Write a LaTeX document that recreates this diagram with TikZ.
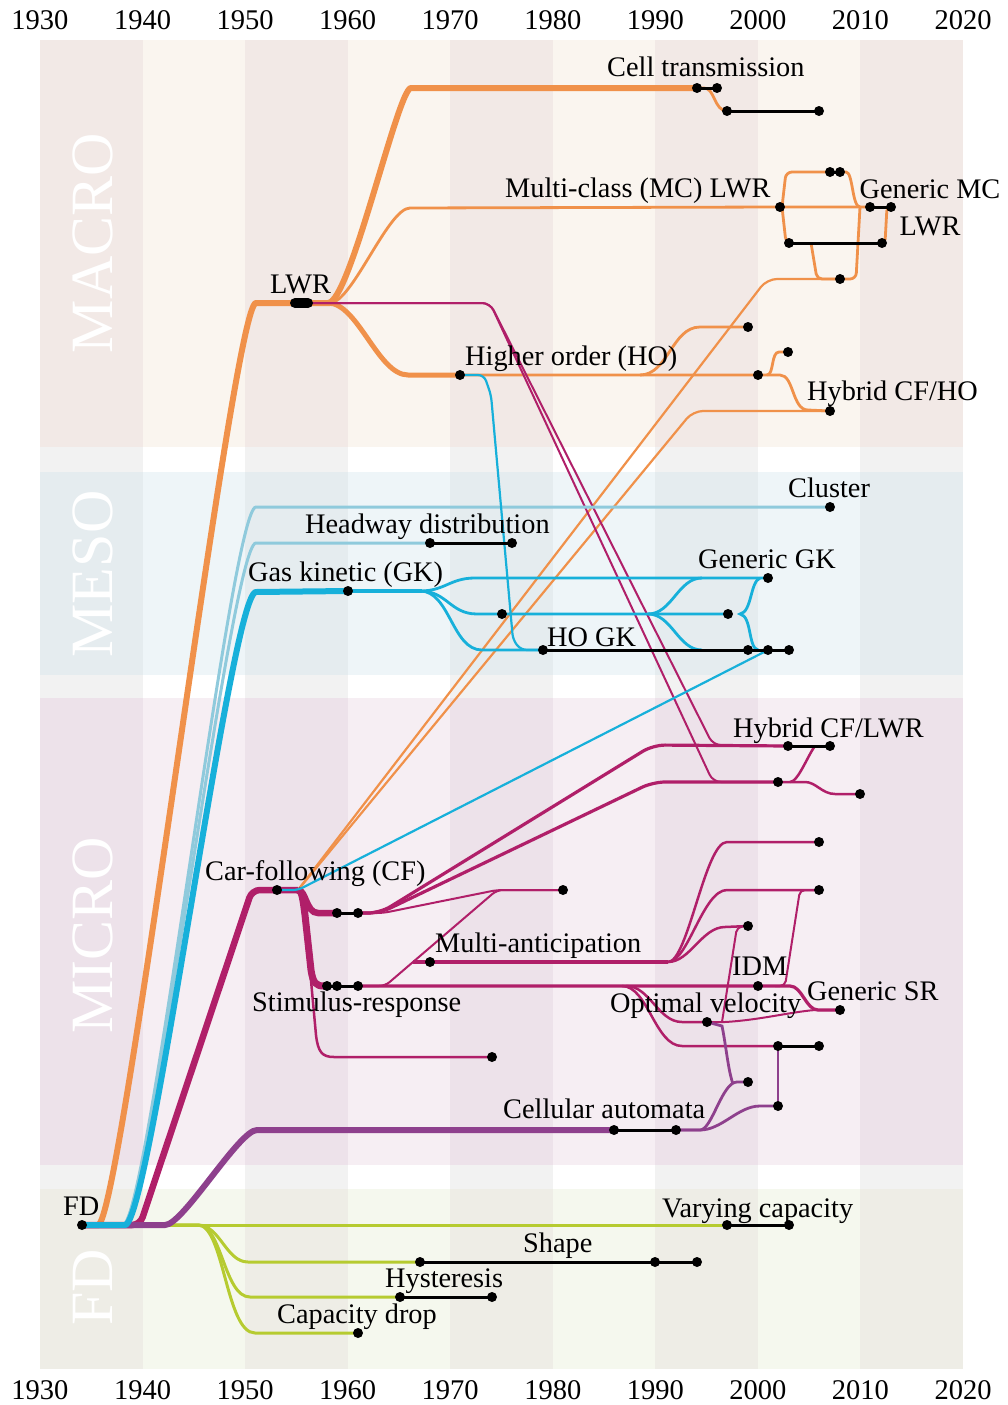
\documentclass[tikz,border=0pt]{standalone}
\usepackage{tikz}
\usepackage{fontspec}
\setmainfont{Liberation Serif}
\definecolor{cOr}{HTML}{F0914A}
\definecolor{cCy}{HTML}{17B0DA}
\definecolor{cLb}{HTML}{8FCADC}
\definecolor{cMg}{HTML}{B01F69}
\definecolor{cPu}{HTML}{8E408D}
\definecolor{cGr}{HTML}{B6CB30}
\definecolor{macD}{HTML}{F2E9E6}
\definecolor{macL}{HTML}{FAF5EF}
\definecolor{mesD}{HTML}{E5ECEF}
\definecolor{mesL}{HTML}{EEF5F8}
\definecolor{micD}{HTML}{EDE2EA}
\definecolor{micL}{HTML}{F6EEF3}
\definecolor{fdD}{HTML}{EEEDE6}
\definecolor{fdL}{HTML}{F5F8EE}
\definecolor{gapD}{HTML}{F2F2F2}
\pgfdeclarelayer{bg}
\pgfdeclarelayer{lines}
\pgfsetlayers{bg,lines,main}
\begin{document}
\begin{tikzpicture}[x=1pt,y=-1pt,line cap=round,line join=round,
  dot/.style={circle,fill=black,inner sep=0pt,minimum size=10pt},
  lbl/.style={anchor=base west,inner sep=0pt,font=\fontsize{28.3}{37}\selectfont},
  yrlbl/.style={anchor=center,inner sep=0pt,font=\fontsize{28.5}{32}\selectfont},
  biglbl/.style={rotate=90,anchor=center,inner sep=0pt,text=white,font=\fontsize{60}{60}\selectfont},
  blk/.style={draw=black,line width=3pt},
  lnOrT/.style={draw=cOr,line width=6pt},
  lnOrM/.style={draw=cOr,line width=5pt},
  lnOr/.style={draw=cOr,line width=2.8pt},
  lnOrS/.style={draw=cOr,line width=2.2pt},
  lnCyT/.style={draw=cCy,line width=6pt},
  lnCyM/.style={draw=cCy,line width=4pt},
  lnCy/.style={draw=cCy,line width=2.8pt},
  lnCyS/.style={draw=cCy,line width=2.2pt},
  lnLb/.style={draw=cLb,line width=3pt},
  lnMgT/.style={draw=cMg,line width=6.5pt},
  lnMgM/.style={draw=cMg,line width=3.2pt},
  lnMg/.style={draw=cMg,line width=2.5pt},
  lnMgS/.style={draw=cMg,line width=2pt},
  lnPuT/.style={draw=cPu,line width=6pt},
  lnPu/.style={draw=cPu,line width=2.8pt},
  lnGr/.style={draw=cGr,line width=3pt}]
\useasboundingbox (0,0) rectangle (1007,1405);

% ---------- background ----------
\begin{pgfonlayer}{bg}
\fill[white] (0,0) rectangle (1007,1405);
\fill[macL] (40,40) rectangle (963,447);
\fill[mesL] (40,472) rectangle (963,675);
\fill[micL] (40,698) rectangle (963,1165);
\fill[fdL] (40,1189) rectangle (963,1369);
\foreach \xa in {40,245.11,450.22,655.33,860.44}{
  \fill[macD] (\xa,40) rectangle ++(102.56,407);
  \fill[gapD] (\xa,447) rectangle ++(102.56,25);
  \fill[mesD] (\xa,472) rectangle ++(102.56,203);
  \fill[gapD] (\xa,675) rectangle ++(102.56,23);
  \fill[micD] (\xa,698) rectangle ++(102.56,467);
  \fill[gapD] (\xa,1165) rectangle ++(102.56,24);
  \fill[fdD] (\xa,1189) rectangle ++(102.56,180);
}
\node[biglbl] (bMACRO) at (92.5,243) {MACRO};
\node[biglbl] (bMESO) at (92.5,574) {MESO};
\node[biglbl] (bMICRO) at (92.5,935) {MICRO};
\node[biglbl] (bFD) at (92.5,1287) {FD};
\end{pgfonlayer}

% ---------- year axis ----------
\foreach \i in {0,...,9}{
  \pgfmathtruncatemacro\yr{1930+10*\i}
  \node[yrlbl] (top\i) at ({40+102.556*\i},20) {\yr};
  \node[yrlbl] (bot\i) at ({40+102.556*\i},1390) {\yr};
}

% ---------- dots ----------
\node[dot] (fd) at (82,1225) {};
\node[dot] (lwrA) at (295,303) {};
\node[dot] (lwrB) at (308,303) {};
\node[dot] (ct1) at (697,88) {};
\node[dot] (ct2) at (717,88) {};
\node[dot] (ct3) at (727,111) {};
\node[dot] (ct4) at (819,111) {};
\node[dot] (mc1) at (780,207) {};
\node[dot] (mcA) at (830,172) {};
\node[dot] (mcB) at (840,172) {};
\node[dot] (gmc1) at (870,207) {};
\node[dot] (gmc2) at (891,207) {};
\node[dot] (mcl1) at (789,243) {};
\node[dot] (mcl2) at (882,243) {};
\node[dot] (mcd) at (840,279) {};
\node[dot] (ho1) at (460,375) {};
\node[dot] (ho2) at (748,327) {};
\node[dot] (ho3) at (758,375) {};
\node[dot] (ho4) at (788,352) {};
\node[dot] (hcfho) at (830,411) {};
\node[dot] (cl) at (830,507) {};
\node[dot] (hw1) at (430,543) {};
\node[dot] (hw2) at (512,543) {};
\node[dot] (gk1) at (348,591) {};
\node[dot] (gkm1) at (502,614) {};
\node[dot] (gkm2) at (728,614) {};
\node[dot] (ggk) at (768,578) {};
\node[dot] (hogk1) at (543,650) {};
\node[dot] (hogk2) at (748,650) {};
\node[dot] (hogk3) at (768,650) {};
\node[dot] (hogk4) at (789,650) {};
\node[dot] (cf) at (277,890) {};
\node[dot] (cfa) at (337,913) {};
\node[dot] (cfb) at (358,913) {};
\node[dot] (cfc) at (563,890) {};
\node[dot] (sr1) at (327,986) {};
\node[dot] (sr2) at (337,986) {};
\node[dot] (sr3) at (358,986) {};
\node[dot] (cfd) at (492,1057) {};
\node[dot] (ma) at (430,962) {};
\node[dot] (hl1) at (788,746) {};
\node[dot] (hl2) at (830,746) {};
\node[dot] (hl3) at (778,782) {};
\node[dot] (hl4) at (860,794) {};
\node[dot] (m1) at (819,842) {};
\node[dot] (m2) at (819,890) {};
\node[dot] (m3) at (748,926) {};
\node[dot] (idm) at (758,986) {};
\node[dot] (gsr) at (840,1010) {};
\node[dot] (ov) at (707,1022) {};
\node[dot] (m4) at (778,1046) {};
\node[dot] (m5) at (819,1046) {};
\node[dot] (ca1) at (614,1130) {};
\node[dot] (ca2) at (676,1130) {};
\node[dot] (ca3) at (748,1082) {};
\node[dot] (ca4) at (778,1106) {};
\node[dot] (vc1) at (727,1225) {};
\node[dot] (vc2) at (789,1225) {};
\node[dot] (sh1) at (420,1262) {};
\node[dot] (sh2) at (655,1262) {};
\node[dot] (sh3) at (697,1262) {};
\node[dot] (hy1) at (400,1297) {};
\node[dot] (hy2) at (492,1297) {};
\node[dot] (cd) at (358,1333) {};
\coordinate (cfj) at (298,890);

% ---------- connectors ----------
\begin{pgfonlayer}{lines}
% FD (green)
\draw[lnGr] (fd.center) -- (vc1.center);
\draw[lnGr] (fd.center) -- (198,1225) .. controls (220,1225) and (226,1262) .. (248,1262) -- (sh1.center);
\draw[lnGr] (fd.center) -- (198,1225) .. controls (222,1225) and (224,1297) .. (250,1297) -- (hy1.center);
\draw[lnGr] (fd.center) -- (198,1225) .. controls (224,1225) and (226,1333) .. (255,1333) -- (cd.center);
% MACRO (orange)
\draw[lnOrT] (fd.center) -- (98,1225) .. controls (121,1225) and (233,303) .. (256,303) -- (lwrB.center) -- (330,303);
\draw[lnOrT] (328,303) .. controls (350,303) and (398,88) .. (411,88) -- (ct1.center);
\draw[lnOr] (ct1.center) -- (704,88) .. controls (715,88) and (714,111) .. (ct3.center);
\draw[lnOr] (lwrB.center) -- (330,303) .. controls (352,303) and (388,208) .. (410,208) -- (mc1.center) -- (gmc1.center);
\draw[lnOrM] (lwrB.center) -- (328,303) .. controls (358,303) and (378,375) .. (408,375) -- (ho1.center);
\draw[lnOr] (ho1.center) -- (ho3.center) -- (780,375) .. controls (794,375) and (792,410) .. (808,410) -- (hcfho.center);
\draw[lnOr] (640,375) .. controls (668,375) and (672,327) .. (700,327) -- (ho2.center);
\draw[lnOr] (767,375) .. controls (774,375) and (771,352) .. (779,352) -- (ho4.center);
\draw[lnOr, rounded corners=6] (mcA.center) -- (786,172) -- (782,207) -- (786,243) -- (mcl1.center);
\draw[lnOr] (mcB.center) -- (846,172) .. controls (853,172) and (852,207) .. (860,207);
\draw[lnOr, rounded corners=4] (gmc2.center) -- (887,207) -- (885,243) -- (mcl2.center);
\draw[lnOr, rounded corners=6] (860,207) -- (856,279) -- (mcd.center);
\draw[lnOr, rounded corners=5] (811,243) -- (817,279) -- (mcd.center);
\draw[lnOrS, rounded corners=10] (cfj) -- (767,279) -- (mcd.center);
\draw[lnOrS, rounded corners=10] (cfj) -- (693,411) -- (hcfho.center);
% MICRO (magenta)
\draw[lnMgT, rounded corners=8] (fd.center) -- (140,1225) -- (252,890) -- (cfj);
\draw[lnMgT] (cfj) .. controls (306,890) and (306,913) .. (318,913) -- (cfa.center);
\draw[lnMg] (cfj) .. controls (302,890) and (303,900) .. (305,915) -- (316,1035) .. controls (318,1052) and (322,1057) .. (334,1057) -- (cfd.center);
\draw[lnMgT, line width=7pt] (cfj) .. controls (302,890) and (303,900) .. (305,915) -- (311,970) .. controls (313,983) and (316,986) .. (324,986) -- (sr1.center);
\draw[lnMgM, rounded corners=12] (cfb.center) -- (380,913) -- (653,745) -- (hl1.center);
\draw[lnMgM, rounded corners=12] (cfb.center) -- (380,913) -- (653,782) -- (hl3.center);
\draw[lnMgS, rounded corners=6] (cfb.center) -- (383,913) -- (497,890) -- (cfc.center);
\draw[lnMgS, rounded corners=6] (sr3.center) -- (385,986) -- (497,890) -- (cfc.center);
\draw[lnMgM] (413,962) -- (ma.center) -- (668,962);
\draw[lnMgM] (sr3.center) -- (idm.center) -- (790,986) .. controls (802,986) and (806,1010) .. (818,1010) -- (gsr.center);
\draw[lnMg] (668,962) .. controls (688,962) and (705,842) .. (727,842) -- (m1.center);
\draw[lnMg] (668,962) .. controls (688,962) and (703,890) .. (727,890) -- (m2.center);
\draw[lnMg] (668,962) .. controls (690,962) and (702,927) .. (725,927) -- (m3.center);
\draw[lnMg] (626,986) .. controls (650,986) and (658,1022) .. (682,1022) -- (ov.center);
\draw[lnMg] (622,986) .. controls (648,986) and (655,1046) .. (682,1046) -- (m4.center);
\draw[lnMgS] (ov.center) -- (725,1022) .. controls (760,1020) and (790,1012) .. (815,1010) -- (gsr.center);
\draw[lnMgS, rounded corners=5] (m3.center) -- (737,927) -- (722,1022);
\draw[lnMgS, rounded corners=5] (m2.center) -- (800,890) -- (785,986) -- (775,986);
\draw[lnMg] (hl3.center) -- (805,782) .. controls (816,782) and (822,794) .. (835,794) -- (hl4.center);
\draw[lnMg] (790,782) .. controls (798,782) and (808,755) .. (815,746);
\draw[lnMgS, rounded corners=8] (lwrB.center) -- (490,303) -- (713,745) -- (hl1.center);
\draw[lnMgS, rounded corners=8] (lwrB.center) -- (490,303) -- (713,782) -- (hl3.center);
% cellular automata (purple)
\draw[lnPuT] (fd.center) -- (165,1225) .. controls (183,1225) and (239,1130) .. (257,1130) -- (ca1.center);
\draw[lnPu] (ca2.center) -- (700,1130) .. controls (712,1130) and (722,1082) .. (737,1082) -- (ca3.center);
\draw[lnPu] (733,1084) .. controls (728,1070) and (726,1045) .. (722,1026) -- (ov.center);
\draw[lnPu] (ca2.center) -- (700,1130) .. controls (722,1130) and (738,1106) .. (760,1106) -- (ca4.center);
\draw[lnPu] (ca4.center) -- (m4.center);
% MESO (light blue, cyan)
\draw[lnLb] (fd.center) -- (123,1225) .. controls (148,1225) and (231,507) .. (256,507) -- (cl.center);
\draw[lnLb] (fd.center) -- (123,1225) .. controls (148,1225) and (231,543) .. (256,543) -- (hw1.center);
\draw[lnCyT] (fd.center) -- (125,1225) .. controls (150,1225) and (231,592) .. (256,592) -- (gk1.center);
\draw[lnCyM] (gk1.center) -- (422,591);
\draw[lnCy] (420,591) .. controls (445,591) and (450,578) .. (475,578) -- (ggk.center);
\draw[lnCy] (420,591) .. controls (447,591) and (450,614) .. (477,614) -- (gkm1.center) -- (gkm2.center);
\draw[lnCy] (420,591) .. controls (450,591) and (452,650) .. (482,650) -- (hogk1.center);
\draw[lnCy] (648,614) .. controls (672,614) and (678,578) .. (702,578);
\draw[lnCy] (648,614) .. controls (672,614) and (678,650) .. (702,650);
\draw[lnCy] (760,578) .. controls (750,582) and (752,612) .. (740,614) .. controls (752,616) and (748,648) .. (758,650);
\draw[lnCyS, rounded corners=6] (ho1.center) -- (484,375) -- (491,395) -- (513,640) -- (521,650) -- (hogk1.center);
\draw[lnCyS, rounded corners=5] (cf.center) -- (cfj) -- (hogk3.center);
% black segments
\draw[blk] (ct1.center) -- (ct2.center);
\draw[blk] (ct3.center) -- (ct4.center);
\draw[blk] (mcA.center) -- (mcB.center);
\draw[blk] (gmc1.center) -- (gmc2.center);
\draw[blk] (mcl1.center) -- (mcl2.center);
\draw[blk] (hw1.center) -- (hw2.center);
\draw[blk] (hogk1.center) -- (hogk4.center);
\draw[blk] (cfa.center) -- (cfb.center);
\draw[blk] (sr1.center) -- (sr3.center);
\draw[blk] (hl1.center) -- (hl2.center);
\draw[blk] (m4.center) -- (m5.center);
\draw[blk] (ca1.center) -- (ca2.center);
\draw[blk] (vc1.center) -- (vc2.center);
\draw[blk] (sh1.center) -- (sh3.center);
\draw[blk] (hy1.center) -- (hy2.center);
\draw[black, line width=10pt] (lwrA.center) -- (lwrB.center);
\end{pgfonlayer}

% ---------- labels ----------
\node[lbl] (tCT) at (607,77) {Cell transmission};
\node[lbl] (tMC) at (505,197) {Multi-class (MC) LWR};
\node[lbl, anchor=base, align=center] (tGMC) at (930,235) {Generic MC\\LWR};
\node[lbl] (tLWR) at (270,293) {LWR};
\node[lbl] (tHO) at (465,365) {Higher order (HO)};
\node[lbl] (tHCFHO) at (807,400) {Hybrid CF/HO};
\node[lbl] (tCl) at (788,497) {Cluster};
\node[lbl] (tHw) at (305,533) {Headway distribution};
\node[lbl] (tGK) at (248,581) {Gas kinetic (GK)};
\node[lbl] (tGGK) at (698,568) {Generic GK};
\node[lbl] (tHOGK) at (547,646) {HO GK};
\node[lbl] (tHCFL) at (733,737) {Hybrid CF/LWR};
\node[lbl] (tCF) at (205,880) {Car-following (CF)};
\node[lbl] (tMA) at (435,952) {Multi-anticipation};
\node[lbl] (tIDM) at (732,975) {IDM};
\node[lbl] (tGSR) at (807,1000) {Generic SR};
\node[lbl] (tSR) at (252,1011) {Stimulus-response};
\node[lbl] (tOV) at (610,1012) {Optimal velocity};
\node[lbl] (tCA) at (503,1118) {Cellular automata};
\node[lbl] (tFD) at (63,1215) {FD};
\node[lbl] (tVC) at (662,1217) {Varying capacity};
\node[lbl] (tSh) at (523,1252) {Shape};
\node[lbl] (tHy) at (385,1287) {Hysteresis};
\node[lbl] (tCD) at (277,1323) {Capacity drop};
\end{tikzpicture}
\end{document}
